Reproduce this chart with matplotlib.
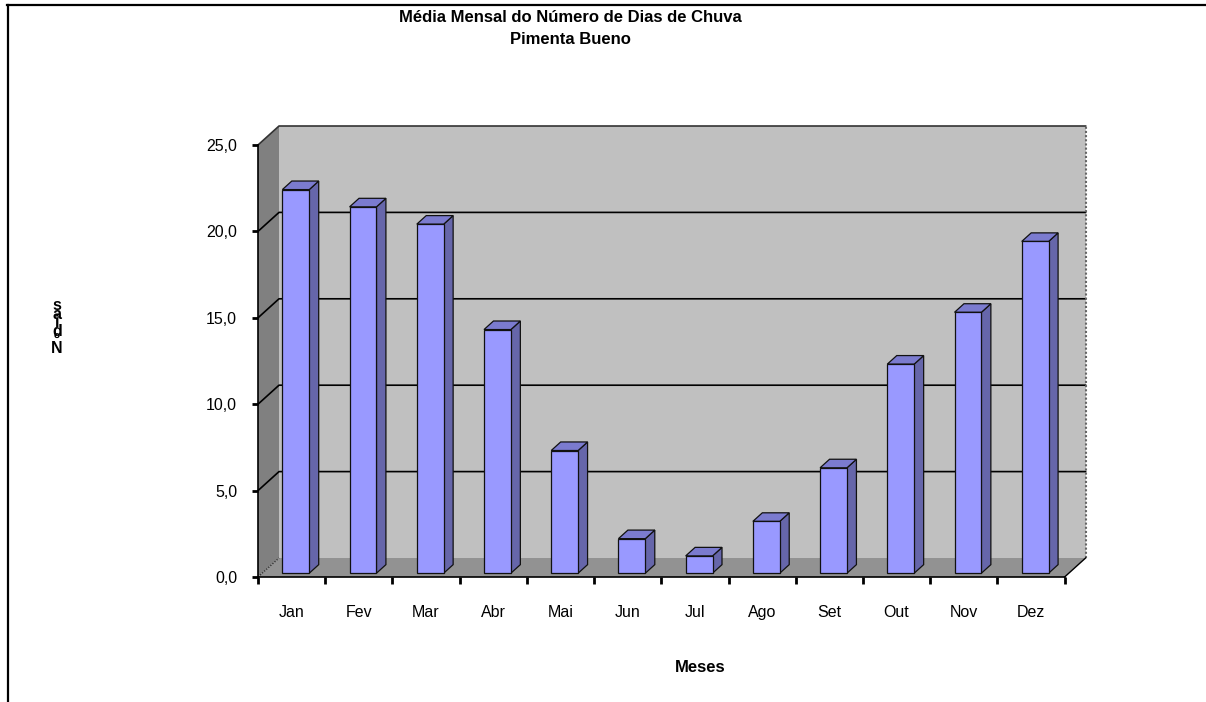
import matplotlib
matplotlib.use("Agg")
import matplotlib.pyplot as plt
from matplotlib.patches import Polygon
from matplotlib.lines import Line2D
from matplotlib.ticker import FixedLocator, FuncFormatter

plt.rcParams['font.family'] = ['Liberation Sans', 'DejaVu Sans']

# Monthly average number of rain days
months = ["Jan", "Fev", "Mar", "Abr", "Mai", "Jun", "Jul", "Ago", "Set", "Out", "Nov", "Dez"]
rain_days = [22.2, 21.2, 20.2, 14.1, 7.1, 2.0, 1.0, 3.0, 6.1, 12.1, 15.1, 19.2]
y_ticks = [0, 5, 10, 15, 20, 25]

W, H = 1206, 702
fig = plt.figure(figsize=(W / 100, H / 100), dpi=100)

# plot area (front plane) in pixels
left_px, right_px, bottom_px, top_px = 258, 1064.6, 577, 145
ax = fig.add_axes([left_px / W, (H - bottom_px) / H,
                   (right_px - left_px) / W, (bottom_px - top_px) / H])
n = len(months)
ymax = 25
ax.set_xlim(0, n)
ax.set_ylim(0, ymax)
ax.set_facecolor("none")

# depth of the pseudo-3D box, in data units
ux = (right_px - left_px) / n
uy = (bottom_px - top_px) / ymax
DX = 21 / ux
DY = 19 / uy


def P(x, y, z):
    return (x + z * DX, y + z * DY)


def face(pts, color, z, lw=0.0, ec="none"):
    ax.add_patch(Polygon(pts, closed=True, facecolor=color, edgecolor=ec,
                         linewidth=lw, zorder=z, clip_on=False))


# walls and floor
face([P(0, 0, 1), P(n, 0, 1), P(n, ymax, 1), P(0, ymax, 1)], "#C0C0C0", 0)
face([P(0, 0, 0), P(0, 0, 1), P(0, ymax, 1), P(0, ymax, 0)], "#808080", 0)
face([P(0, 0, 0), P(n, 0, 0), P(n, 0, 1), P(0, 0, 1)], "#929292", 0)

# gridlines on the left wall and the back wall
for v in y_ticks[1:]:
    a, b, c = P(0, v, 0), P(0, v, 1), P(n, v, 1)
    col = "black" if v < ymax else "#333333"
    ax.add_line(Line2D([a[0], b[0], c[0]], [a[1], b[1], c[1]], color=col,
                       lw=1.2, zorder=1, clip_on=False))
a, b = P(0, 0, 0), P(0, 0, 1)
ax.add_line(Line2D([a[0], b[0]], [a[1], b[1]], color="#333333", lw=1,
                   ls=(0, (1, 1)), zorder=1, clip_on=False))
a, b = P(n, 0, 1), P(n, ymax, 1)
ax.add_line(Line2D([a[0], b[0]], [a[1], b[1]], color="#666666", lw=1.5,
                   ls=(0, (1, 1)), zorder=1, clip_on=False))
a, b = P(n, 0, 0), P(n, 0, 1)
ax.add_line(Line2D([a[0], b[0]], [a[1], b[1]], color="black", lw=1,
                   zorder=1, clip_on=False))

# columns
z0, z1 = 0.2, 0.65
bw = 0.4
centers = [i + 0.5 for i in range(n)]
ax.bar([c + z0 * DX for c in centers], rain_days, width=bw, bottom=z0 * DY,
       color="#9999FF", edgecolor="#111111", linewidth=0.9, zorder=3)
for c, v in zip(centers, rain_days):
    x0, x1 = c - bw / 2, c + bw / 2
    face([P(x1, 0, z0), P(x1, 0, z1), P(x1, v, z1), P(x1, v, z0)],
         "#6666AA", 2, lw=0.9, ec="#111111")
    face([P(x0, v, z0), P(x1, v, z0), P(x1, v, z1), P(x0, v, z1)],
         "#7B7BCF", 2, lw=0.9, ec="#111111")

# axes
for s in ("top", "right"):
    ax.spines[s].set_visible(False)
for s in ("left", "bottom"):
    ax.spines[s].set_linewidth(1.2)
    ax.spines[s].set_zorder(4)
ax.yaxis.set_major_locator(FixedLocator(y_ticks))
ax.yaxis.set_major_formatter(FuncFormatter(lambda v, p: f"{v:.1f}".replace(".", ",")))
ax.tick_params(axis="y", direction="out", length=4, width=2, pad=11,
               labelsize=11.5)
ax.xaxis.set_major_locator(FixedLocator(list(range(n + 1))))
ax.xaxis.set_minor_locator(FixedLocator(centers))
ax.set_xticklabels([""] * (n + 1))
ax.set_xticklabels(months, minor=True)
ax.tick_params(axis="x", which="major", direction="out", length=5, width=2)
ax.tick_params(axis="x", which="minor", length=0, pad=20.5, labelsize=11.5)

# titles and axis labels
fig.text(570 / W, 1 - 18 / H, "Média Mensal do Número de Dias de Chuva",
         ha="center", va="center", fontsize=12, fontweight="bold")
fig.text(570 / W, 1 - 40 / H, "Pimenta Bueno",
         ha="center", va="center", fontsize=12, fontweight="bold")
fig.text(700 / W, 1 - 667 / H, "Meses", ha="center", va="center",
         fontsize=12, fontweight="bold")

# stacked vertical label "Nº dias"
fig.text(57 / W, 1 - 298 / H, "s\na\ni\nd\nº\nN", ha="center", va="top",
         fontsize=11.5, fontweight="bold", linespacing=0.47)

# chart frame
fig.add_artist(Line2D([7 / W, 1], [1 - 5 / H, 1 - 5 / H], color="black",
                      lw=1.6, transform=fig.transFigure))
fig.add_artist(Line2D([8 / W, 8 / W], [1 - 5 / H, 0], color="black",
                      lw=1.6, transform=fig.transFigure))

fig.savefig("out.png", dpi=100)
